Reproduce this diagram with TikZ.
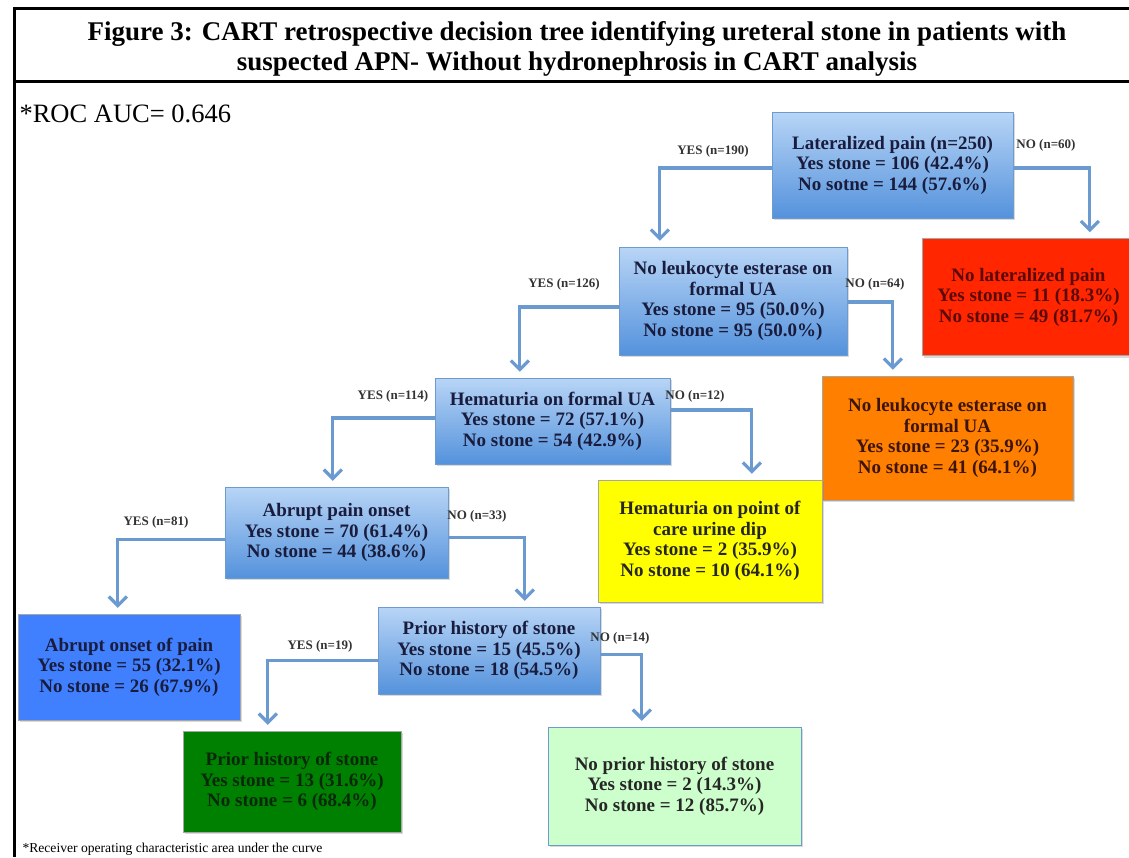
\documentclass[tikz,border=0pt]{standalone}
\usepackage{fontspec}
\setmainfont{Liberation Serif}
\usetikzlibrary{arrows.meta,shadows}

\definecolor{arrowblue}{RGB}{106,154,208}
\definecolor{blueTop}{RGB}{184,213,246}
\definecolor{blueBot}{RGB}{84,146,220}
\definecolor{blueEdge}{RGB}{110,155,205}
\definecolor{navytext}{RGB}{25,28,60}
\definecolor{redbox}{RGB}{255,38,0}
\definecolor{orangebox}{RGB}{255,128,0}
\definecolor{yellowbox}{RGB}{255,255,0}
\definecolor{greenbox}{RGB}{0,128,0}
\definecolor{lightgreenbox}{RGB}{204,255,204}
\definecolor{brightblue}{RGB}{64,128,255}

\newcommand{\boxfont}{\fontsize{19}{20.5}\selectfont\bfseries}
\newcommand{\lblfont}{\fontsize{13}{15}\selectfont\bfseries}

\tikzset{
  treebox/.style={align=center, font=\boxfont, inner sep=0pt, drop shadow={opacity=0.3,shadow xshift=2pt,shadow yshift=-2pt}},
  bluebox/.style={treebox, top color=blueTop, bottom color=blueBot, draw=blueEdge, text=navytext},
  leafbox/.style={treebox, fill=#1, draw=gray!70},
  arr/.style={draw=arrowblue, line width=3.2pt, -{Straight Barb[length=9pt,width=18pt]}, shorten >=6pt},
  lbl/.style={font=\lblfont, text=black!80}
}

\begin{document}
\begin{tikzpicture}[x=1pt,y=1pt,yscale=-1,xscale=1]
\useasboundingbox (0,0) rectangle (1129,857);

% frame and title
\draw[line width=3pt] (1129,8) -- (14,8) -- (14,857);
\draw[line width=3pt] (14,81) -- (1129,81);
\node[font=\fontsize{27}{30}\selectfont\bfseries, align=center] (title) at (577,49) {Figure 3: CART retrospective decision tree identifying ureteral stone in patients with\\suspected APN- Without hydronephrosis in CART analysis};
\node[anchor=west, font=\fontsize{26.5}{30}\selectfont] (roc) at (16,114) {*ROC AUC= 0.646};
\node[anchor=west, font=\fontsize{13.6}{15}\selectfont] (foot) at (19,849) {*Receiver operating characteristic area under the curve};

% decision nodes
\node[bluebox, minimum width=241pt, minimum height=106pt] (lat) at (892.5,165) {Lateralized pain (n=250)\\Yes stone = 106 (42.4\%)\\No sotne = 144 (57.6\%)};
\node[bluebox, minimum width=228pt, minimum height=108pt] (leuko) at (733,301) {No leukocyte esterase on\\formal UA\\Yes stone = 95 (50.0\%)\\No stone = 95 (50.0\%)};
\node[bluebox, minimum width=235pt, minimum height=86pt] (hem) at (552.5,421) {Hematuria on formal UA\\Yes stone = 72 (57.1\%)\\No stone = 54 (42.9\%)};
\node[bluebox, minimum width=223pt, minimum height=91pt] (abrupt) at (336.5,532.5) {Abrupt pain onset\\Yes stone = 70 (61.4\%)\\No stone = 44 (38.6\%)};
\node[bluebox, minimum width=222pt, minimum height=87pt] (prior) at (489,650.5) {Prior history of stone\\Yes stone = 15 (45.5\%)\\No stone = 18 (54.5\%)};

% leaves
\node[leafbox=redbox, text={rgb,255:red,90;green,10;blue,10}, minimum width=213pt, minimum height=117pt] (nolat) at (1028.5,297) {No lateralized pain\\Yes stone = 11 (18.3\%)\\No stone = 49 (81.7\%)};
\node[leafbox=orangebox, text={rgb,255:red,60;green,20;blue,10}, minimum width=251pt, minimum height=124pt] (noleuko) at (947.5,438) {No leukocyte esterase on\\formal UA\\Yes stone = 23 (35.9\%)\\No stone = 41 (64.1\%)};
\node[leafbox=yellowbox, text=black!85, minimum width=224pt, minimum height=122pt] (dip) at (710,541) {Hematuria on point of\\care urine dip\\Yes stone = 2 (35.9\%)\\No stone = 10 (64.1\%)};
\node[leafbox=brightblue, text=navytext, minimum width=222pt, minimum height=106pt] (onset) at (129,667) {Abrupt onset of pain\\Yes stone = 55 (32.1\%)\\No stone = 26 (67.9\%)};
\node[leafbox=greenbox, text={rgb,255:red,10;green,40;blue,10}, minimum width=218pt, minimum height=101pt] (hist) at (292,781.5) {Prior history of stone\\Yes stone = 13 (31.6\%)\\No stone = 6 (68.4\%)};
\node[leafbox=lightgreenbox, draw=blueEdge, text=black!85, minimum width=253pt, minimum height=118pt] (nohist) at (674.5,786) {No prior history of stone\\Yes stone = 2 (14.3\%)\\No stone = 12 (85.7\%)};

% connectors
\draw[arr] ([yshift=3]lat.west) -| ([xshift=41]leuko.north west);
\draw[arr] ([yshift=3]lat.east) -| ([xshift=168]nolat.north west);
\draw[arr] ([yshift=6]leuko.west) -| ([xshift=85]hem.north west);
\draw[arr] ([yshift=1]leuko.east) -| ([xshift=71]noleuko.north west);
\draw[arr] ([yshift=-3]hem.west) -| ([xshift=108]abrupt.north west);
\draw[arr] ([yshift=-11]hem.east) -| ([xshift=154]dip.north west);
\draw[arr] ([yshift=7]abrupt.west) -| ([xshift=100]onset.north west);
\draw[arr] ([yshift=5]abrupt.east) -| ([xshift=147]prior.north west);
\draw[arr] ([yshift=10]prior.west) -| ([xshift=85]hist.north west);
\draw[arr] ([yshift=4]prior.east) -| ([xshift=94]nohist.north west);

% branch labels
\node[lbl] (l1) at (713,151) {YES (n=190)};
\node[lbl] (l2) at (1046,145) {NO (n=60)};
\node[lbl] (l3) at (564,284) {YES (n=126)};
\node[lbl] (l4) at (875,284) {NO (n=64)};
\node[lbl] (l5) at (393,396) {YES (n=114)};
\node[lbl] (l6) at (695,396) {NO (n=12)};
\node[lbl] (l7) at (156,522) {YES (n=81)};
\node[lbl] (l8) at (477,516) {NO (n=33)};
\node[lbl] (l9) at (320,646) {YES (n=19)};
\node[lbl] (l10) at (620,638) {NO (n=14)};

\end{tikzpicture}
\end{document}
